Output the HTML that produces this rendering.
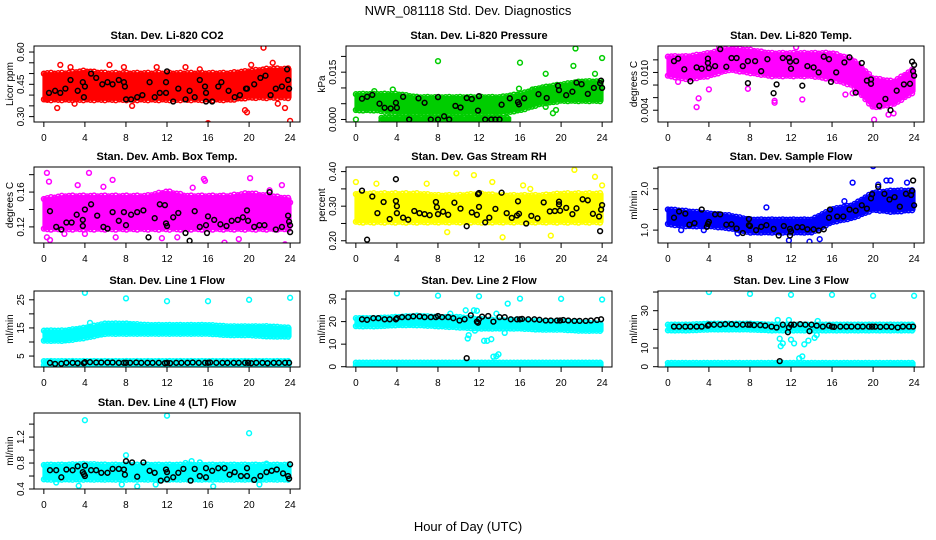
<!DOCTYPE html>
<html><head><meta charset="utf-8"><style>
html,body{margin:0;padding:0;background:#fff;}
svg{display:block;font-family:"Liberation Sans",sans-serif;}
</style></head><body>
<svg id="c" width="936" height="540" viewBox="0 0 936 540">
<text x="468" y="15" text-anchor="middle" font-size="13">NWR_081118  Std. Dev. Diagnostics</text>
<text x="468" y="531" text-anchor="middle" font-size="13">Hour of Day (UTC)</text>
</svg>
<script>
// ---------- data ----------
const xTicks = [0,4,8,12,16,20,24];
const gridHours = [0,2,4,6,8,10,12,14,16,18,20,22,24];
const blkHours = [0.6,1.1,1.7,2.2,2.8,3.3,3.9,4,4.5,5.1,5.6,6.2,6.7,7.3,7.8,8,8.4,9,9.5,10.1,10.6,11.2,11.8,12,12.3,12.9,13.4,14,14.5,15.1,15.7,16,16.2,16.8,17.4,17.9,18.5,19,19.6,19.9,20.2,20.7,21.3,21.8,22.4,22.9,23.5,23.9];

const co2Lo = [0.38,0.38,0.38,0.38,0.38,0.38,0.38,0.38,0.38,0.38,0.39,0.39,0.39];
const co2Hi = [0.50,0.50,0.51,0.50,0.50,0.50,0.50,0.50,0.50,0.50,0.51,0.52,0.52];
const co2Extra = [[21.4,0.62],[16,0.27],[24,0.28],[1.6,0.54],[2.6,0.53],[6.4,0.54],[7.8,0.53],[8.6,0.35],[3,0.36],[13.8,0.53],[22.3,0.55],[20.2,0.54],[0.2,0.38],[1.3,0.34],[19.6,0.33],[19.8,0.32],[23.5,0.34],[22.8,0.36],[11,0.53],[15.2,0.52]];
const co2Black = [[0.5,0.41],[1.1,0.42],[1.6,0.41],[2.1,0.43],[2.6,0.47],[3.3,0.42],[3.8,0.46],[3.9,0.39],[4,0.44],[4.6,0.5],[5.1,0.48],[5.7,0.45],[6.2,0.46],[6.7,0.45],[7.3,0.47],[7.8,0.46],[7.9,0.44],[8,0.38],[8.5,0.38],[9.1,0.39],[9.6,0.40],[10.3,0.46],[10.8,0.39],[11.3,0.41],[11.9,0.41],[11.9,0.46],[12,0.51],[12.6,0.37],[13.1,0.43],[13.8,0.38],[14.2,0.42],[14.7,0.39],[15.2,0.47],[15.7,0.44],[15.8,0.41],[15.8,0.37],[16.4,0.37],[17,0.44],[17.3,0.46],[18,0.42],[18.6,0.39],[19.1,0.40],[19.7,0.43],[19.8,0.43],[20.5,0.45],[21.1,0.48],[21.6,0.49],[22.1,0.40],[22.6,0.43],[23.2,0.44],[23.7,0.52],[23.8,0.47],[23.9,0.43]];

const presLo = [0.003,0.003,0.002,0.002,0.002,0.002,0.002,0.002,0.003,0.005,0.006,0.006,0.006];
const presHi = [0.008,0.008,0.008,0.007,0.007,0.007,0.007,0.007,0.008,0.010,0.011,0.012,0.012];
const presZeroHours = [2.5,15];
const presZeroLo = [-0.0003,-0.0003];
const presZeroHi = [0.0005,0.0005];
const presExtra = [[21.4,0.0225],[8,0.0185],[16,0.018],[24,0.0195],[18.5,0.0145],[23.3,0.0145],[21.2,0.017],[0,0],[1.8,0.009],[3.6,0.0095],[15.9,0.0098],[17.2,0.0095],[19.2,0.002],[18.5,0.004],[19.5,0.003]];
const presBlack = [[0.6,0.0066],[1.1,0.0072],[1.6,0.0078],[2.3,0.005],[2.8,0.0037],[3.4,0.0035],[4,0.0037],[3.9,0.0053],[4.6,0.0072],[5.2,0],[6.1,0.0067],[6.7,0.0053],[7.3,0],[8,0.0071],[8,0],[8.6,0.001],[9.1,0],[9.7,0.0043],[10.2,0.0038],[10.8,0.0068],[11.3,0.0065],[11.9,0.0028],[12,0.0074],[12.6,0],[13.2,0],[13.6,0],[14,0],[14.2,0.0047],[15,0.0067],[15.8,0.0055],[15.9,0.0048],[16.4,0.0067],[17.8,0.008],[18.6,0.0068],[19.7,0.0107],[19.8,0.0093],[20.5,0.0077],[21.1,0.0088],[21.5,0.0117],[22,0.0112],[22.6,0.0081],[23.2,0.01],[23.8,0.0115],[23.9,0.0123],[24,0.01]];

const tempLo = [0.0095,0.009,0.0095,0.0105,0.010,0.0095,0.0095,0.0095,0.009,0.008,0.0045,0.005,0.007];
const tempHi = [0.0125,0.0125,0.013,0.0138,0.0135,0.013,0.013,0.013,0.013,0.012,0.009,0.0085,0.0105];
const tempExtra = [[2.8,0.0045],[3,0.0059],[4,0.0073],[7.8,0.0074],[10.4,0.0055],[10.4,0.0052],[13.1,0.0057],[20.1,0.0025],[17.3,0.0065],[18,0.0067],[1,0.0085],[22,0.0035],[21.5,0.0033],[5,0.0141],[12.5,0.014]];
const tempBlack = [[0.6,0.0118],[1,0.0122],[1.6,0.0105],[2.2,0.0086],[2.8,0.0108],[3.3,0.0106],[3.9,0.0122],[3.9,0.0115],[4,0.0107],[4.6,0.011],[5.1,0.0137],[5.7,0.0109],[6.2,0.0123],[6.7,0.0123],[7.3,0.011],[7.8,0.0118],[7.8,0.0083],[8.5,0.0118],[9.1,0.0102],[9.7,0.0121],[10.3,0.0067],[10.6,0.0081],[11.2,0.0123],[11.8,0.0123],[11.9,0.0117],[12,0.0106],[12.5,0.0118],[13.1,0.0079],[13.6,0.011],[14.2,0.0108],[14.7,0.01],[15.2,0.0125],[15.7,0.0121],[15.9,0.0085],[16.4,0.01],[17.2,0.0116],[17.7,0.0124],[18.3,0.0068],[18.9,0.0115],[19.4,0.0087],[19.8,0.0082],[19.8,0.0089],[20.6,0.0047],[21.2,0.0058],[21.7,0.004],[22.3,0.0071],[23,0.0081],[23.6,0.0082],[23.8,0.0117],[23.9,0.0102],[24,0.0112],[24,0.0095]];

const ambLo = [0.118,0.118,0.118,0.118,0.118,0.118,0.118,0.118,0.118,0.118,0.118,0.118,0.118];
const ambHi = [0.152,0.155,0.155,0.155,0.155,0.155,0.16,0.155,0.155,0.155,0.158,0.155,0.152];
const ambExtra = [[0.3,0.182],[0.5,0.172],[4.4,0.182],[6.7,0.174],[3.3,0.168],[15.6,0.175],[15.7,0.173],[20.1,0.176],[23.2,0.168],[0.3,0.108],[0.6,0.105],[4,0.112],[13,0.108],[17.6,0.102],[23.5,0.1],[2,0.112],[7,0.108],[11.5,0.107],[19,0.106],[24,0.148],[5.8,0.166],[14.5,0.165],[22,0.162]];
const ambBlack = [[0.6,0.138],[1.2,0.12],[1.7,0.117],[2.2,0.125],[2.7,0.125],[3.2,0.134],[3.8,0.128],[3.8,0.121],[4,0.14],[4.6,0.146],[5.2,0.133],[5.8,0.12],[6.2,0.118],[6.7,0.137],[7.3,0.127],[7.8,0.137],[8,0.122],[8.5,0.134],[9.1,0.137],[9.7,0.139],[10.2,0.108],[10.8,0.13],[11.3,0.146],[11.8,0.145],[11.9,0.124],[12,0.121],[12.6,0.131],[13.1,0.136],[13.8,0.113],[14.2,0.104],[14.7,0.138],[15.2,0.12],[15.8,0.122],[15.9,0.113],[16,0.132],[16.6,0.128],[17.2,0.123],[17.8,0.121],[18.3,0.127],[18.9,0.128],[19.4,0.131],[19.8,0.139],[19.9,0.127],[20.5,0.12],[21,0.122],[21.5,0.122],[22,0.16],[22.6,0.117],[23.2,0.12],[23.8,0.133],[23.9,0.126],[24,0.122],[24,0.114]];

const rhLo = [0.255,0.255,0.255,0.255,0.255,0.255,0.255,0.255,0.255,0.255,0.255,0.255,0.255];
const rhHi = [0.335,0.335,0.335,0.335,0.33,0.33,0.335,0.33,0.33,0.33,0.335,0.335,0.335];
const rhExtra = [[9.8,0.395],[11.5,0.39],[21.3,0.405],[23.3,0.385],[14.3,0.21],[0,0.37],[2,0.365],[6.9,0.365],[19,0.215],[8.9,0.225],[13.3,0.37],[16.3,0.36],[24,0.36],[0.5,0.33],[17,0.35]];
const rhBlack = [[0.6,0.345],[1.1,0.203],[1.6,0.328],[2.1,0.28],[2.7,0.312],[3.3,0.263],[3.9,0.378],[3.9,0.315],[4,0.3],[4,0.28],[4.6,0.267],[5.1,0.261],[5.7,0.286],[6.2,0.28],[6.7,0.277],[7.2,0.274],[7.8,0.312],[7.9,0.297],[8,0.277],[8.5,0.284],[9,0.275],[9.6,0.31],[10.2,0.293],[10.8,0.242],[11.3,0.282],[11.8,0.275],[11.9,0.335],[12,0.338],[12,0.298],[12.6,0.253],[13,0.267],[13.6,0.292],[14.2,0.339],[14.7,0.28],[15.2,0.266],[15.7,0.273],[15.8,0.314],[15.9,0.278],[16.6,0.25],[17.1,0.272],[17.7,0.265],[18.3,0.311],[18.9,0.285],[19.4,0.286],[19.8,0.313],[19.8,0.305],[19.9,0.287],[20.5,0.295],[21.1,0.277],[21.5,0.294],[22.1,0.32],[22.6,0.317],[23.1,0.278],[23.7,0.27],[23.8,0.228],[23.9,0.29],[24,0.303]];

const sfLo = [1.15,1.1,1.1,1.05,0.95,0.95,0.95,0.95,1.2,1.3,1.5,1.45,1.5];
const sfHi = [1.5,1.45,1.4,1.35,1.25,1.25,1.25,1.25,1.5,1.6,1.9,1.95,1.95];
const sfExtra = [[20,2.55],[18,2.15],[20.5,2.1],[21.3,2.2],[21.7,2.2],[23.3,2.15],[17.2,1.7],[13.8,0.72],[14.8,0.78],[11.8,0.75],[6.8,0.92],[3.5,1.0],[1.3,1.0],[9.6,1.55],[19.3,1.75]];
const sfBlack = [[0.6,1.3],[1.1,1.45],[1.7,1.4],[2.1,1.13],[2.6,1.17],[3.3,1.5],[3.8,1.08],[3.9,1.15],[4,1.2],[4.6,1.38],[5.1,1.38],[5.7,1.13],[6.2,1.14],[6.7,1.04],[7.3,0.93],[7.9,1.27],[7.9,1.12],[8,1.1],[8.6,1.0],[9.1,1.08],[9.6,1.12],[10.3,1.03],[10.8,0.87],[11.3,1.1],[11.9,1.03],[11.9,0.87],[12,0.97],[12.6,1.07],[13.1,1.07],[13.6,1.02],[14.2,1.02],[14.7,0.99],[15.2,1.02],[15.7,1.3],[15.8,1.5],[16.5,1.33],[17.1,1.33],[17.7,1.5],[18.3,1.47],[18.9,1.6],[19.4,1.52],[19.8,1.77],[19.9,1.87],[20.5,2.05],[21.1,1.88],[21.6,1.74],[22.1,1.8],[22.6,1.57],[23.2,1.88],[23.7,1.85],[23.8,1.95],[23.9,2.2],[24,1.6]];

const l1Lo = [10.5,10.5,11.5,13,13,13,13,13,13,12.5,12.5,12,12];
const l1Hi = [14,14,15,16.5,16.5,16,16,16,16,15.5,15.5,15.5,15];
const l1BaseLo = [1.8,1.8,1.8,1.8,1.8,1.8,1.8,1.8,1.8,1.8,1.8,1.8,1.8];
const l1BaseHi = [3.2,3.2,3.2,3.2,3.2,3.2,3.2,3.2,3.2,3.2,3.2,3.2,3.2];
const l1Extra = [[4,27.5],[8,25.5],[12,24.5],[16,24.5],[20,25],[24,25.7],[0.3,14],[4.5,16.8]];
const l1BlackVals = [2.6,2.2,2.3,2.6,2.6,2.5,2.5,2.8,2.8,2.7,2.7,2.7,2.7,2.6,2.6,2.6,2.6,2.7,2.6,2.6,2.6,2.6,2.5,2.6,2.5,2.6,2.6,2.6,2.7,2.6,2.6,2.6,2.7,2.6,2.6,2.6,2.6,2.6,2.6,2.6,2.5,2.6,2.6,2.5,2.6,2.6,2.6,2.6];

const l2Lo = [18,18,18.5,18.5,18,17.5,17,17,17,16.5,16.5,16,16];
const l2Hi = [21.5,21.5,22,22.5,22,22,21,20.5,20.5,20,20,19.5,19];
const l2BaseLo = [0.5,0.5,0.5,0.5,0.5,0.5,0.5,0.5,0.5,0.5,0.5,0.5,0.5];
const l2BaseHi = [1.8,1.8,1.8,1.8,1.8,1.8,1.8,1.8,1.8,1.8,1.8,1.8,1.8];
const l2Extra = [[4,32.5],[8,31.5],[12,31.2],[16,30.2],[20,30.1],[24,29.8],[14.8,28],[10.7,25],[11.5,25],[10.9,12.5],[11,14],[11.6,16],[12.5,11.5],[12.8,11.5],[13.2,12.2],[13.4,4.5],[13.7,4.7],[13.9,5.5],[14.5,15],[9.2,23.5],[11.8,24.8],[13.7,23.5]];
const l2BlackVals = [21,20.8,21.5,21.5,21,21,21,21.5,22,22,22.3,22.3,22,22,22,22.5,22,22,21.5,20.5,21,22.8,20,21,22.2,22.5,20,22,22,21,21,21,21.2,21,21,20.8,20.5,20.5,20.5,20.5,20.7,20.5,20.3,20.3,20.3,20.5,20.7,21];
const l2BlackExtra = [[10.8,3.8],[11.9,19.5]];

const l3Lo = [19.5,19.5,20,20,20,19.5,19.5,19.5,19.5,19.5,19.5,19.5,19.5];
const l3Hi = [22.5,22.5,23,23,23,22.5,22.5,22.5,22.5,22.5,22.5,22.5,22.5];
const l3BaseLo = [0.5,0.5,0.5,0.5,0.5,0.5,0.5,0.5,0.5,0.5,0.5,0.5,0.5];
const l3BaseHi = [2,2,2,2,2,2,2,2,2,2,2,2,2];
const l3Extra = [[4,40],[8,39],[12,38.5],[16,38.5],[20,38],[24,38],[10.9,15],[11,11],[11.2,12.5],[12,14.5],[12.3,12.5],[13.7,14],[14.3,15.5],[14.5,17],[13.3,12],[12.8,4.5],[13.1,5.5],[10.7,25],[11.8,25],[14.6,24.5]];
const l3BlackVals = [21.5,21.5,21.5,21.5,21.5,21.5,22,22.5,22.5,22.5,22.8,22.8,22.5,22.5,22.5,22.5,22.3,22.3,22,21.5,21,22.5,21,22.5,22.5,22.8,22.5,22.5,22,21.5,22,21.5,21.3,21.5,21.5,21.5,21.5,21.5,21.5,21.5,21.5,21.3,21.5,21.3,21,21.5,21.5,21.5];
const l3BlackExtra = [[11.7,18.5],[13.8,19],[10.9,3]];

const l4Lo = [0.55,0.55,0.55,0.55,0.55,0.55,0.55,0.55,0.55,0.55,0.55,0.55,0.55];
const l4Hi = [0.77,0.77,0.78,0.77,0.77,0.77,0.77,0.77,0.77,0.77,0.77,0.77,0.77];
const l4Extra = [[4,1.46],[12,1.53],[20,1.26],[8,0.92],[3.4,0.45],[9.1,0.44],[16.5,0.44],[14.4,0.83],[15.2,0.81],[21,0.47],[21.7,0.79],[13.8,0.8],[1.2,0.5],[7.6,0.47],[10.9,0.47]];
const l4Black = [[0.6,0.69],[1.2,0.69],[1.7,0.58],[2.2,0.7],[2.8,0.69],[3.3,0.75],[3.8,0.66],[3.9,0.63],[4,0.76],[4,0.6],[4.6,0.69],[5.1,0.69],[5.6,0.65],[6.2,0.65],[6.7,0.71],[7.3,0.71],[7.8,0.7],[7.9,0.62],[8,0.83],[8.6,0.81],[9.1,0.59],[9.7,0.81],[10.3,0.68],[10.8,0.65],[11.4,0.53],[11.9,0.7],[12,0.66],[12,0.55],[12.6,0.58],[13.1,0.65],[13.6,0.71],[14.3,0.53],[14.7,0.71],[15.2,0.6],[15.8,0.72],[15.8,0.58],[16.4,0.68],[17,0.72],[17.6,0.72],[18.1,0.62],[18.6,0.66],[19.2,0.6],[19.8,0.72],[19.8,0.6],[20.5,0.54],[21.1,0.6],[21.7,0.66],[22.2,0.68],[22.7,0.7],[23.3,0.64],[23.8,0.6],[23.9,0.56],[24,0.78]];

// ---------- render ----------
const NS = "http://www.w3.org/2000/svg";
const svg = document.getElementById('c');
function mk(tag, attrs, parent){ const e=document.createElementNS(NS,tag); for(const k in attrs) e.setAttribute(k,attrs[k]); (parent||svg).appendChild(e); return e; }
function zip(xs, ys){ return xs.map((x,i)=>[x,ys[i]]); }
function interp(hs, vals, h){
  for(let i=0;i<hs.length-1;i++){ if(h>=hs[i] && h<=hs[i+1]){ const t=(h-hs[i])/(hs[i+1]-hs[i]); return vals[i]+(vals[i+1]-vals[i])*t; } }
  return vals[vals.length-1];
}

const panels = [
 {slug:'co2',title:'Stan. Dev. Li-820 CO2',ylab:'Licor ppm',col:0,row:0,ymin:0.275,ymax:0.628,ticks:[0.30,0.35,0.40,0.45,0.50,0.55,0.60],labels:{'0.3':'0.30','0.45':'0.45','0.6':'0.60'},color:'#ff0000',
  bands:[[gridHours,co2Lo,co2Hi]],extra:co2Extra,black:co2Black},
 {slug:'pressure',title:'Stan. Dev. Li-820 Pressure',ylab:'kPa',col:1,row:0,ymin:-0.0008,ymax:0.0233,ticks:[0,0.005,0.010,0.015,0.020],labels:{'0':'0.000','0.015':'0.015'},color:'#00cd00',
  bands:[[gridHours,presLo,presHi],[presZeroHours,presZeroLo,presZeroHi]],extra:presExtra,black:presBlack},
 {slug:'temp',title:'Stan. Dev. Li-820 Temp.',ylab:'degrees C',col:2,row:0,ymin:0.00213,ymax:0.0142,ticks:[0.004,0.006,0.008,0.010,0.012],labels:{'0.004':'0.004','0.01':'0.010'},color:'#ff00ff',
  bands:[[gridHours,tempLo,tempHi]],extra:tempExtra,black:tempBlack},
 {slug:'amb-box-temp',title:'Stan. Dev. Amb. Box Temp.',ylab:'degrees C',col:0,row:1,ymin:0.1015,ymax:0.1888,ticks:[0.12,0.14,0.16,0.18],labels:{'0.12':'0.12','0.16':'0.16'},color:'#ff00ff',
  bands:[[gridHours,ambLo,ambHi]],extra:ambExtra,black:ambBlack},
 {slug:'gas-rh',title:'Stan. Dev. Gas Stream RH',ylab:'percent',col:1,row:1,ymin:0.1935,ymax:0.4133,ticks:[0.20,0.25,0.30,0.35,0.40],labels:{'0.2':'0.20','0.3':'0.30','0.4':'0.40'},color:'#ffff00',
  bands:[[gridHours,rhLo,rhHi]],extra:rhExtra,black:rhBlack},
 {slug:'sample-flow',title:'Stan. Dev. Sample Flow',ylab:'ml/min',col:2,row:1,ymin:0.688,ymax:2.528,ticks:[1.0,1.5,2.0,2.5],labels:{'1':'1.0','2':'2.0'},color:'#0000ff',
  bands:[[gridHours,sfLo,sfHi]],extra:sfExtra,black:sfBlack},
 {slug:'line1-flow',title:'Stan. Dev. Line 1 Flow',ylab:'ml/min',col:0,row:2,ymin:1.11,ymax:28.13,ticks:[5,10,15,20,25],labels:{'5':'5','15':'15','25':'25'},color:'#00ffff',
  bands:[[gridHours,l1Lo,l1Hi],[gridHours,l1BaseLo,l1BaseHi]],extra:l1Extra,black:zip(blkHours,l1BlackVals)},
 {slug:'line2-flow',title:'Stan. Dev. Line 2 Flow',ylab:'ml/min',col:1,row:2,ymin:-0.13,ymax:33.57,ticks:[0,10,20,30],labels:{'0':'0','10':'10','20':'20','30':'30'},color:'#00ffff',
  bands:[[gridHours,l2Lo,l2Hi],[gridHours,l2BaseLo,l2BaseHi]],extra:l2Extra,black:zip(blkHours,l2BlackVals).concat(l2BlackExtra)},
 {slug:'line3-flow',title:'Stan. Dev. Line 3 Flow',ylab:'ml/min',col:2,row:2,ymin:-0.16,ymax:40.55,ticks:[0,10,20,30,40],labels:{'0':'0','10':'10','30':'30'},color:'#00ffff',
  bands:[[gridHours,l3Lo,l3Hi],[gridHours,l3BaseLo,l3BaseHi]],extra:l3Extra,black:zip(blkHours,l3BlackVals).concat(l3BlackExtra)},
 {slug:'line4-flow',title:'Stan. Dev. Line 4 (LT) Flow',ylab:'ml/min',col:0,row:3,ymin:0.4,ymax:1.571,ticks:[0.4,0.6,0.8,1.0,1.2,1.4],labels:{'0.4':'0.4','0.8':'0.8','1.2':'1.2'},color:'#00ffff',
  bands:[[gridHours,l4Lo,l4Hi]],extra:l4Extra,black:l4Black}
];

const colLeft = [34,346,658];
const boxW = 266;
const rowTop = [46,167,291,413];
const boxH = 76;

panels.forEach(p=>{
  const L = colLeft[p.col], T = rowTop[p.row], B = T+boxH, R = L+boxW;
  const xs = h => L + boxW*(h+0.96)/25.92;
  const ys = v => B - boxH*(v-p.ymin)/(p.ymax-p.ymin);
  const g = mk('g',{});
  
  
  const clip = mk('clipPath',{id:'clip-'+p.slug},g);
  mk('rect',{x:L,y:T,width:boxW,height:boxH},clip);
  const plot = mk('g',{'clip-path':'url(#clip-'+p.slug+')'},g);
  p.bands.forEach(b=>{
    const [hs,lo,hi]=b;
    let pts = hs.map((h,i)=>xs(h).toFixed(1)+','+ys(hi[i]).toFixed(1));
    for(let i=hs.length-1;i>=0;i--) pts.push(xs(hs[i]).toFixed(1)+','+ys(lo[i]).toFixed(1));
    const poly = mk('polygon',{points:pts.join(' '),fill:p.color,stroke:p.color,'stroke-width':3,'stroke-linejoin':'round'},plot);
    
    
    // ragged edge circles along the cloud boundary
    const h0 = hs[0], h1 = hs[hs.length-1];
    let k = 0;
    for(let h=h0; h<=h1+1e-9; h+=0.35){
      const off = (k%3)*0.25;
      const lv = interp(hs,lo,h), hv = interp(hs,hi,h);
      const span = hv-lv;
      [[h, hv+span*0.06*off],[h, lv-span*0.06*off]].forEach(d=>{
        const c = mk('circle',{cx:xs(d[0]).toFixed(1),cy:ys(d[1]).toFixed(1),r:2.4,fill:'none',stroke:p.color,'stroke-width':1.5},plot);
        
        
      });
      k++;
    }
  });
  p.extra.forEach(d=>{
    const c = mk('circle',{cx:xs(d[0]).toFixed(1),cy:ys(d[1]).toFixed(1),r:2.4,fill:'none',stroke:p.color,'stroke-width':1.5},plot);
    
    
  });
  p.black.forEach(d=>{
    const c = mk('circle',{cx:xs(d[0]).toFixed(1),cy:ys(d[1]).toFixed(1),r:2.4,fill:'none',stroke:'#000','stroke-width':1.5},plot);
    
    
  });
  const box = mk('rect',{x:L,y:T,width:boxW,height:boxH,fill:'none',stroke:'#000','stroke-width':1},g);
  
  
  xTicks.forEach(t=>{
    const x = xs(t);
    mk('line',{x1:x,y1:B,x2:x,y2:B+5,stroke:'#000'},g);
    const tx = mk('text',{x:x,y:B+19,'text-anchor':'middle','font-size':10},g);
    tx.textContent = t;
    
    
  });
  p.ticks.forEach(t=>{
    const y = ys(t);
    mk('line',{x1:L-5,y1:y,x2:L,y2:y,stroke:'#000'},g);
    const key = String(+t.toFixed(6));
    if(p.labels[key]!==undefined){
      const tx = mk('text',{x:L-10,y:y,'text-anchor':'middle','font-size':10,transform:'rotate(-90 '+(L-10)+' '+y+')'},g);
      tx.textContent = p.labels[key];
      
      
    }
  });
  const yl = mk('text',{x:L-21,y:(T+B)/2,'text-anchor':'middle','font-size':10,transform:'rotate(-90 '+(L-21)+' '+((T+B)/2)+')'},g);
  yl.textContent = p.ylab;
  
  
  const ti = mk('text',{x:(L+R)/2,y:T-7,'text-anchor':'middle','font-size':11,'font-weight':'bold'},g);
  ti.textContent = p.title;
  
  
});
</script>
</body></html>
